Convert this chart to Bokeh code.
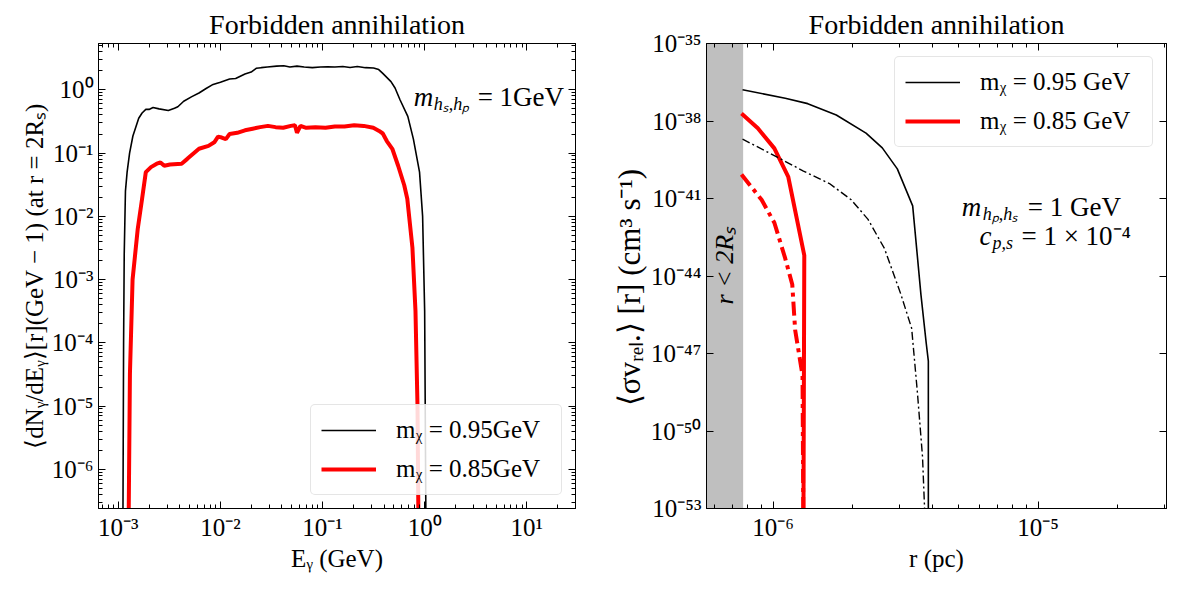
import numpy as np
from bokeh.plotting import figure
from bokeh.layouts import row
from bokeh.models import (Range1d, FixedTicker, LogAxis, CustomJSTickFormatter,
                          Label, BoxAnnotation, Legend)
from bokeh.embed import file_html
from bokeh.resources import INLINE

FONT = "Liberation Serif"

# ---------------- data: left panel (photon spectrum) ----------------
E_095 = [1.109e-3, 1.127e-3, 1.143e-3, 1.175e-3, 1.22e-3, 1.29e-3, 1.39e-3, 1.585e-3, 1.71e-3, 1.86e-3,
         2.0e-3, 2.19e-3, 2.51e-3, 3.09e-3, 3.55e-3, 3.83e-3, 4.37e-3, 5.25e-3, 6.17e-3, 7.24e-3,
         8.32e-3, 1.0e-2, 1.23e-2, 1.41e-2, 1.74e-2, 2.0e-2, 2.24e-2, 2.51e-2, 2.88e-2, 3.55e-2,
         4.17e-2, 4.79e-2, 5.62e-2, 6.61e-2, 7.94e-2, 9.55e-2, 0.112, 0.132, 0.158, 0.186,
         0.219, 0.263, 0.316, 0.355, 0.389, 0.468, 0.513, 0.575, 0.684, 0.776,
         0.891, 0.955, 1.0, 1.03]
dNdE_095 = [1e-7, 1e-4, 2.5e-3, 2.5e-2, 5.0e-2, 0.10, 0.186, 0.355, 0.43, 0.49,
            0.49, 0.525, 0.50, 0.47, 0.51, 0.54, 0.66, 0.78, 0.89, 1.05,
            1.20, 1.32, 1.48, 1.51, 1.78, 1.91, 2.19, 2.24, 2.29, 2.37,
            2.40, 2.29, 2.37, 2.29, 2.24, 2.29, 2.32, 2.29, 2.34, 2.26,
            2.34, 2.24, 2.21, 2.09, 1.82, 1.35, 1.07, 0.69, 0.38, 0.166,
            0.050, 1.0e-2, 3.2e-4, 1e-7]
E_085 = [1.26e-3, 1.30e-3, 1.38e-3, 1.55e-3, 1.71e-3, 1.86e-3, 2.09e-3, 2.38e-3, 2.59e-3, 2.82e-3,
         3.21e-3, 4.17e-3, 4.74e-3, 6.17e-3, 7.64e-3, 8.71e-3, 9.48e-3, 1.03e-2, 1.13e-2, 1.23e-2,
         1.46e-2, 1.74e-2, 2.07e-2, 2.45e-2, 2.92e-2, 3.47e-2, 4.12e-2, 4.90e-2, 5.37e-2, 5.62e-2,
         6.08e-2, 6.92e-2, 8.51e-2, 0.107, 0.132, 0.164, 0.204, 0.253, 0.314, 0.358,
         0.389, 0.426, 0.484, 0.550, 0.631, 0.676, 0.759, 0.813, 0.851, 0.871]
dNdE_085 = [1e-7, 3.2e-5, 1e-3, 6.3e-3, 1.9e-2, 5.0e-2, 6.0e-2, 6.8e-2, 7.1e-2, 6.3e-2,
            6.6e-2, 6.8e-2, 8.1e-2, 0.117, 0.130, 0.148, 0.182, 0.176, 0.166, 0.20,
            0.209, 0.229, 0.243, 0.257, 0.269, 0.257, 0.251, 0.269, 0.275, 0.209,
            0.269, 0.251, 0.257, 0.251, 0.263, 0.263, 0.275, 0.269, 0.251, 0.224,
            0.204, 0.155, 0.115, 6.3e-2, 3.1e-2, 1.9e-2, 3.2e-3, 3.2e-4, 1e-5, 1e-7]

# ---------------- data: right panel (cross section vs radius) ----------------
r_095 = [7.66e-7, 1.11e-6, 1.35e-6, 1.73e-6, 2.24e-6, 2.58e-6, 2.94e-6, 3.36e-6, 3.61e-6, 3.78e-6, 3.85e-6, 3.85e-6]
sv_095 = [1.62e-37, 7.6e-38, 4.7e-38, 1.7e-38, 3.4e-39, 9.1e-40, 1.4e-40, 5.2e-42, 1.9e-45, 2.5e-47, 5.1e-48, 1e-54]
r_095_dd = [7.66e-7, 1.04e-6, 1.30e-6, 1.63e-6, 1.97e-6, 2.28e-6, 2.63e-6, 3.03e-6, 3.33e-6, 3.50e-6, 3.66e-6, 3.76e-6]
sv_095_dd = [2.0e-39, 3.9e-40, 1.15e-40, 3.8e-41, 8.9e-42, 1.55e-42, 1.15e-43, 2.0e-45, 9.5e-47, 3.2e-49, 1e-51, 1e-54]
r_085 = [7.59e-7, 8.75e-7, 1.01e-6, 1.14e-6, 1.31e-6, 1.30e-6]
sv_085 = [1.95e-38, 5.2e-39, 8.7e-40, 6.8e-41, 6.3e-44, 1e-54]
r_085_dd = [7.59e-7, 9.04e-7, 1.01e-6, 1.11e-6, 1.18e-6, 1.21e-6, 1.27e-6, 1.29e-6, 1.30e-6]
sv_085_dd = [8.5e-41, 8.9e-42, 1.15e-42, 4.8e-44, 4.7e-45, 8.1e-47, 3.8e-48, 1.4e-48, 1e-54]
r_2Rs = 7.7e-7  # edge of the r < 2 R_s band

# ---------------- texts ----------------
title_text = "Forbidden annihilation"
left_labels = ["m\u1d6a = 0.95GeV", "m\u1d6a = 0.85GeV"]
right_labels = ["m\u1d6a = 0.95 GeV", "m\u1d6a = 0.85 GeV"]

# ---------------- ticks ----------------
left_x_major = [1e-3, 1e-2, 1e-1, 1.0, 10.0]
left_y_major = [1e-6, 1e-5, 1e-4, 1e-3, 1e-2, 1e-1, 1.0]
right_x_major = [1e-6, 1e-5]
right_y_major = [1e-53, 1e-50, 1e-47, 1e-44, 1e-41, 1e-38, 1e-35]


def minors(kmin, kmax):
    return [m * 10.0 ** k for k in range(kmin, kmax + 1) for m in range(2, 10)]


SUP_JS = """
const e = Math.round(Math.log10(tick));
const sup = {"-": "\\u207b", "0": "\\u2070", "1": "\\u00b9", "2": "\\u00b2", "3": "\\u00b3",
             "4": "\\u2074", "5": "\\u2075", "6": "\\u2076", "7": "\\u2077", "8": "\\u2078", "9": "\\u2079"};
let s = "";
for (const c of String(e)) { s += sup[c]; }
return "10" + s;
"""


def style_axis(ax, labels=True):
    ax.major_tick_in = 7
    ax.major_tick_out = 0
    ax.minor_tick_in = 4
    ax.minor_tick_out = 0
    ax.axis_line_color = "black"
    ax.major_tick_line_color = "black"
    ax.minor_tick_line_color = "black"
    ax.major_label_text_font = FONT
    ax.major_label_text_font_size = "25px"
    ax.major_label_text_color = "black"
    ax.axis_label_text_font = FONT
    ax.axis_label_text_font_size = "25px"
    ax.axis_label_text_font_style = "normal"
    ax.axis_label_text_color = "black"
    ax.major_label_standoff = 5
    ax.axis_label_standoff = 1
    if labels:
        ax.formatter = CustomJSTickFormatter(code=SUP_JS)
    else:
        ax.formatter = CustomJSTickFormatter(code="return '';")
        ax.major_label_text_font_size = "0px"
        ax.major_label_standoff = 0
        ax.axis_label_standoff = 0


def make_fig(width, xr, yr, bl, br, xt, yt):
    p = figure(width=width, height=574, x_axis_type="log", y_axis_type="log",
               x_range=xr, y_range=yr, output_backend="svg", toolbar_location=None,
               min_border_left=bl, min_border_right=br, min_border_top=43, min_border_bottom=62)
    p.grid.visible = False
    p.outline_line_color = "black"
    p.outline_line_width = 1
    p.background_fill_color = "white"
    p.border_fill_color = "white"
    p.title.text = title_text
    p.title.text_font = FONT
    p.title.text_font_size = "28px"
    p.title.text_font_style = "normal"
    p.title.text_color = "black"
    p.title.align = "center"
    p.title.standoff = 8
    p.title.offset = 0
    p.below[0].ticker = xt
    p.left[0].ticker = yt
    style_axis(p.below[0])
    style_axis(p.left[0])
    top = LogAxis(ticker=xt)
    style_axis(top, labels=False)
    p.add_layout(top, "above")
    rgt = LogAxis(ticker=yt)
    style_axis(rgt, labels=False)
    p.add_layout(rgt, "right")
    return p


def style_legend(leg, loc, label_width):
    leg.location = loc
    leg.margin = 13
    leg.padding = 10
    leg.spacing = 9
    leg.glyph_width = 55
    leg.glyph_height = 30
    leg.label_height = 30
    leg.label_width = label_width
    leg.label_standoff = 20
    leg.label_text_font = FONT
    leg.label_text_font_size = "25px"
    leg.label_text_color = "black"
    leg.border_line_color = "#cccccc"
    leg.border_line_width = 1
    leg.background_fill_alpha = 0.85
    if "border_radius" in Legend.properties():
        leg.border_radius = 5


def sub_label(p, x, y, parts):
    # parts: list of (text, size, style, x_offset, y_offset)
    for txt, size, style, dx, dy in parts:
        p.add_layout(Label(x=x, y=y, text=txt, text_font=FONT, text_font_size=size,
                           text_font_style=style, text_color="black", x_offset=dx, y_offset=dy,
                           text_baseline="alphabetic", text_align="left"))


# ---------------- left panel ----------------
xt1 = FixedTicker(ticks=left_x_major, minor_ticks=minors(-4, 1))
yt1 = FixedTicker(ticks=left_y_major, minor_ticks=minors(-7, 0))
p1 = make_fig(600, Range1d(6.4e-4, 30.0), Range1d(2.4e-7, 5.4), 98, 25, xt1, yt1)
p1.below[0].axis_label = "E\u1d67 (GeV)"
p1.left[0].axis_label = "\u27e8dN\u1d67/dE\u1d67\u27e9[r](GeV \u2212 1) (at r = 2R\u209b)"
p1.line(E_095, dNdE_095, line_color="black", line_width=1.6, legend_label=left_labels[0])
p1.line(E_085, dNdE_085, line_color="#ff0000", line_width=4, legend_label=left_labels[1])
style_legend(p1.legend[0], "bottom_right", 155)
sub_label(p1, 0.78, 0.78, [("m", "27px", "italic", 0, 0),
                           ("h\u209b,h\u209a", "18px", "italic", 20, -7),
                           ("= 1GeV", "27px", "normal", 64, 0)])

# ---------------- right panel ----------------
xt2 = FixedTicker(ticks=right_x_major, minor_ticks=minors(-7, -5))
yt2 = FixedTicker(ticks=right_y_major, minor_ticks=[])
p2 = make_fig(569, Range1d(5.6e-7, 3.05e-5), Range1d(1e-53, 1e-35), 106, 3, xt2, yt2)
p2.below[0].axis_label = "r (pc)"
p2.left[0].axis_label = "\u27e8\u03c3v\u1d63\u2091\u2097.\u27e9 [r]    (cm\u00b3 s\u207b\u00b9)"
p2.left[0].axis_label_text_font_size = "31px"
p2.add_layout(BoxAnnotation(right=r_2Rs, fill_color="#bfbfbf", fill_alpha=1.0,
                            line_color=None, level="underlay"))
p2.line(r_095, sv_095, line_color="black", line_width=1.6, legend_label=right_labels[0])
p2.line(r_085, sv_085, line_color="#ff0000", line_width=4, legend_label=right_labels[1])
p2.line(r_095_dd, sv_095_dd, line_color="black", line_width=1.4, line_dash="8 3 2 3")
p2.line(r_085_dd, sv_085_dd, line_color="#ff0000", line_width=4, line_dash="14 5 4 5")
style_legend(p2.legend[0], "top_right", 162)
p2.add_layout(Label(x=6.57e-7, y=10 ** -43.6, text="r < 2R\u209b", text_font=FONT,
                    text_font_size="26px", text_font_style="italic", text_color="black",
                    angle=np.pi / 2, text_align="center", text_baseline="middle"))
sub_label(p2, 5.15e-6, 4.6e-42, [("m", "27px", "italic", 0, 0),
                                  ("h\u209a,h\u209b", "18px", "italic", 21, -7),
                                  ("= 1 GeV", "27px", "normal", 66, 0)])
sub_label(p2, 6.0e-6, 3.6e-43, [("c", "27px", "italic", 0, 0),
                                 ("p,s", "18px", "italic", 13, -7),
                                 ("= 1 \u00d7 10\u207b\u2074", "27px", "normal", 42, 0)])

layout = row(p1, p2)
open("out.html", "w").write(file_html(layout, INLINE))
